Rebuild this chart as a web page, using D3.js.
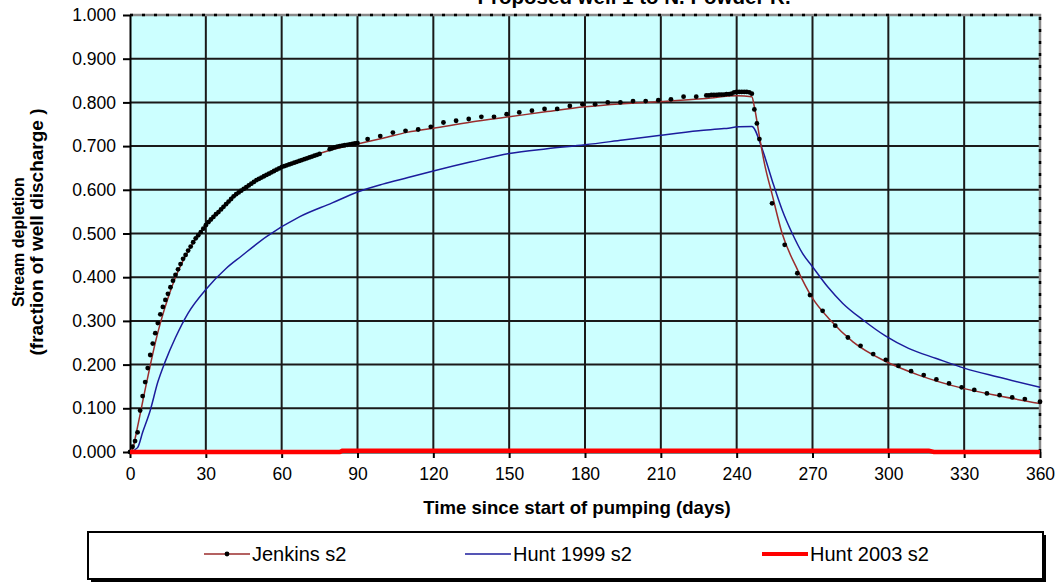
<!DOCTYPE html>
<html>
<head>
<meta charset="utf-8">
<script src="https://cdn.jsdelivr.net/npm/d3@7/dist/d3.min.js"></script>
<style>
  body { margin: 0; background: #fff; }
  svg { display: block; font-family: "Liberation Sans", Arial, sans-serif; }
</style>
</head>
<body>
<svg width="1057" height="584"></svg>
<script>
// values: [day, fraction of well discharge]
const jenkinsLine = [
  [0,0],[1,0.005],[2,0.030],[3,0.058],[4,0.086],[5,0.115],[6,0.143],[8,0.198],[10,0.250],
  [12,0.295],[15,0.352],[18,0.400],[21,0.438],[24,0.469],[27,0.497],[30,0.519],[36,0.555],
  [43,0.594],[51,0.625],[60,0.652],[70,0.673],[80,0.692],[90,0.705],[100,0.718],[110,0.732],
  [120,0.741],[135,0.755],[150,0.767],[165,0.779],[180,0.790],[195,0.797],[210,0.802],
  [228,0.809],[240,0.815],[246,0.813],[247,0.790],[249,0.722],[251,0.660],[254,0.590],
  [258,0.500],[264,0.418],[270,0.352],[277,0.302],[286,0.252],[299,0.207],[312,0.176],
  [330,0.145],[345,0.127],[360,0.111]
];

const jenkinsDots = [
  [0,0.000],[1,0.012],[2,0.025],[3,0.045],[4,0.095],[5,0.128],[6,0.160],[7,0.192],[8,0.222],
  [9,0.248],[10,0.272],[11,0.295],[12,0.315],[13,0.332],[14,0.348],[15,0.362],[16,0.377],
  [17,0.392],[18,0.405],[19,0.418],[20,0.430],[21,0.442],[22,0.451],[23,0.461],[24,0.470],
  [25,0.480],[26,0.489],[27,0.496],[28,0.503],[29,0.511],[30,0.519],[31,0.526],[32,0.532],
  [33,0.538],[34,0.544],[35,0.549],[36,0.555],[37,0.561],[38,0.567],[39,0.573],[40,0.579],
  [41,0.585],[42,0.590],[43,0.594],[44,0.598],[45,0.602],[46,0.606],[47,0.610],[48,0.614],
  [49,0.618],[50,0.622],[51,0.625],[52,0.628],[53,0.631],[54,0.634],[55,0.637],[56,0.640],
  [57,0.643],[58,0.646],[59,0.649],[60,0.652],[61,0.654],[62,0.656],[63,0.658],[64,0.660],
  [65,0.662],[66,0.664],[67,0.666],[68,0.668],[69,0.670],[70,0.672],[71,0.674],[72,0.676],
  [73,0.678],[74,0.680],[75,0.682],
  [79,0.693],[80,0.695],[81,0.697],[82,0.699],[83,0.700],[84,0.701],[85,0.702],[86,0.703],
  [87,0.704],[88,0.705],[89,0.706],[90,0.707],
  [94,0.716],[99,0.723],[104,0.731],[109,0.735],[114,0.738],[119,0.744],[124,0.754],
  [129,0.758],[134,0.762],[139,0.767],[144,0.767],[149,0.773],[154,0.777],[159,0.781],
  [164,0.785],[169,0.785],[174,0.792],[179,0.796],[184,0.796],[189,0.800],[194,0.800],
  [199,0.803],[204,0.803],[209,0.805],[214,0.807],[219,0.813],[224,0.813],
  [228,0.816],[229,0.816],[230,0.817],[231,0.817],[232,0.817],[233,0.818],[234,0.818],
  [235,0.818],[236,0.819],[237,0.819],[238,0.820],[239,0.823],[240,0.824],[241,0.824],
  [242,0.824],[243,0.824],[244,0.824],[245,0.823],[246,0.820],
  [247,0.784],[248,0.752],[249,0.716],[254,0.569],[259,0.474],[264,0.409],[269,0.359],
  [274,0.323],[279,0.289],[284,0.262],[289,0.243],[294,0.224],[299,0.211],[304,0.197],
  [309,0.185],[314,0.176],[319,0.166],[324,0.157],[329,0.148],[334,0.142],[339,0.134],
  [344,0.130],[349,0.125],[354,0.121],[360,0.115]
];

const hunt1999 = [
  [0,0],[3,0.010],[5,0.045],[8,0.095],[11,0.160],[14,0.208],[18,0.262],[23,0.318],[30,0.372],
  [38,0.420],[44,0.448],[54,0.493],[67,0.538],[80,0.570],[90,0.595],[100,0.613],[110,0.628],
  [120,0.643],[135,0.664],[150,0.683],[165,0.694],[180,0.703],[195,0.714],[210,0.725],
  [225,0.735],[235,0.740],[241,0.744],[246,0.745],[250,0.695],[254,0.622],[258,0.554],
  [262,0.500],[266,0.455],[270,0.424],[276,0.378],[282,0.340],[290,0.302],[299,0.265],
  [308,0.237],[319,0.214],[330,0.192],[343,0.172],[360,0.148]
];

const hunt2003 = [[0,0],[83,0],[84,0.003],[316,0.003],[318,0],[360,0]];

const xTickValues = [0,30,60,90,120,150,180,210,240,270,300,330,360];
const yTickValues = [0,0.1,0.2,0.3,0.4,0.5,0.6,0.7,0.8,0.9,1.0];

const legendItems = [
  {name: "Jenkins s2", color: "#9b2d2d", width: 1.5, dot: true, x: 204},
  {name: "Hunt 1999 s2", color: "#1c1c9c", width: 1.5, dot: false, x: 465},
  {name: "Hunt 2003 s2", color: "#ff0000", width: 4, dot: false, x: 762}
];

var svg = d3.select("svg"),
    margin = {top: 15, right: 17, bottom: 132, left: 130},
    width = +svg.attr("width") - margin.left - margin.right,
    height = +svg.attr("height") - margin.top - margin.bottom,
    g = svg.append("g").attr("transform", "translate(" + margin.left + "," + margin.top + ")");

var x = d3.scaleLinear().domain([0, 360]).range([0, width]);
var y = d3.scaleLinear().domain([0, 1]).range([height, 0]);

var line = d3.line()
    .x(d => x(d[0]))
    .y(d => y(d[1]));

var smoothLine = d3.line()
    .curve(d3.curveMonotoneX)
    .x(d => x(d[0]))
    .y(d => y(d[1]));

// plot area
g.append("rect")
  .attr("width", width)
  .attr("height", height)
  .attr("fill", "#ccffff");

// grid
g.selectAll(".vgrid")
  .data(xTickValues.filter(d => d > 0 && d < 360))
  .enter().append("line")
  .attr("x1", d => x(d)).attr("x2", d => x(d))
  .attr("y1", 0).attr("y2", height)
  .attr("stroke", "#1a1a1a")
  .attr("stroke-width", 2);

g.selectAll(".hgrid")
  .data(yTickValues.filter(d => d > 0 && d < 1))
  .enter().append("line")
  .attr("x1", 0).attr("x2", width)
  .attr("y1", d => y(d)).attr("y2", d => y(d))
  .attr("stroke", "#1a1a1a")
  .attr("stroke-width", 2);

// dashed top / right border
const border = "M0," + y(1) + "H" + x(360) + "V" + y(0);
g.append("path").attr("d", border).attr("fill", "none")
  .attr("stroke", "#8a8a8a").attr("stroke-width", 2.5);
g.append("path").attr("d", border).attr("fill", "none")
  .attr("stroke", "#000").attr("stroke-width", 2.5)
  .attr("stroke-dasharray", "3,9");

// series
g.append("path")
  .datum(hunt1999)
  .attr("fill", "none")
  .attr("stroke", "#1c1c9c")
  .attr("stroke-width", 1.5)
  .attr("d", smoothLine);

g.append("path")
  .datum(jenkinsLine)
  .attr("fill", "none")
  .attr("stroke", "#9b2d2d")
  .attr("stroke-width", 1.5)
  .attr("d", smoothLine);

g.selectAll(".dot")
  .data(jenkinsDots)
  .enter().append("circle")
  .attr("cx", d => x(d[0]))
  .attr("cy", d => y(d[1]))
  .attr("r", 2.4)
  .attr("fill", "#000");

// axes
var yAxis = g.append("g")
  .call(d3.axisLeft(y).tickValues(yTickValues).tickFormat(d3.format(".3f"))
    .tickSize(7).tickSizeOuter(0).tickPadding(7));

var xAxis = g.append("g")
  .attr("transform", "translate(0," + height + ")")
  .call(d3.axisBottom(x).tickValues(xTickValues)
    .tickSize(6).tickSizeOuter(0).tickPadding(10));

[xAxis, yAxis].forEach(a => {
  a.select(".domain").attr("stroke", "#000").attr("stroke-width", 2);
  a.selectAll(".tick line").attr("stroke", "#000").attr("stroke-width", 2);
  a.selectAll(".tick text")
    .attr("fill", "#000")
    .style("font-size", "17.5px")
    .style("font-family", "'Liberation Sans', Arial, sans-serif");
});

g.append("path")
  .datum(hunt2003)
  .attr("fill", "none")
  .attr("stroke", "#ff0000")
  .attr("stroke-width", 4.5)
  .attr("d", line);

// titles
svg.append("text")
  .attr("x", 634).attr("y", 4)
  .attr("text-anchor", "middle")
  .style("font-weight", "bold").style("font-size", "20.5px")
  .text("Proposed well 1 to N. Powder R.");

svg.append("text")
  .attr("x", 577).attr("y", 514)
  .attr("text-anchor", "middle")
  .style("font-weight", "bold").style("font-size", "18.6px")
  .text("Time since start of pumping (days)");

svg.append("text")
  .attr("transform", "translate(24,242) rotate(-90)")
  .attr("text-anchor", "middle")
  .style("font-weight", "bold").style("font-size", "16px")
  .text("Stream depletion");

svg.append("text")
  .attr("transform", "translate(43,232) rotate(-90)")
  .attr("text-anchor", "middle")
  .style("font-weight", "bold").style("font-size", "19px")
  .text("(fraction of well discharge )");

// legend
var legend = svg.append("g");
legend.append("rect")
  .attr("x", 91).attr("y", 535).attr("width", 955).attr("height", 47)
  .attr("fill", "#000");
legend.append("rect")
  .attr("x", 88).attr("y", 532).attr("width", 955).attr("height", 47)
  .attr("fill", "#fff").attr("stroke", "#000").attr("stroke-width", 2);

legendItems.forEach(item => {
  legend.append("line")
    .attr("x1", item.x).attr("x2", item.x + 46)
    .attr("y1", 554).attr("y2", 554)
    .attr("stroke", item.color).attr("stroke-width", item.width);
  if (item.dot) {
    legend.append("circle")
      .attr("cx", item.x + 23).attr("cy", 554).attr("r", 2.4).attr("fill", "#000");
  }
  legend.append("text")
    .attr("x", item.x + 48).attr("y", 561)
    .style("font-size", "20px")
    .text(item.name);
});
</script>
</body>
</html>
